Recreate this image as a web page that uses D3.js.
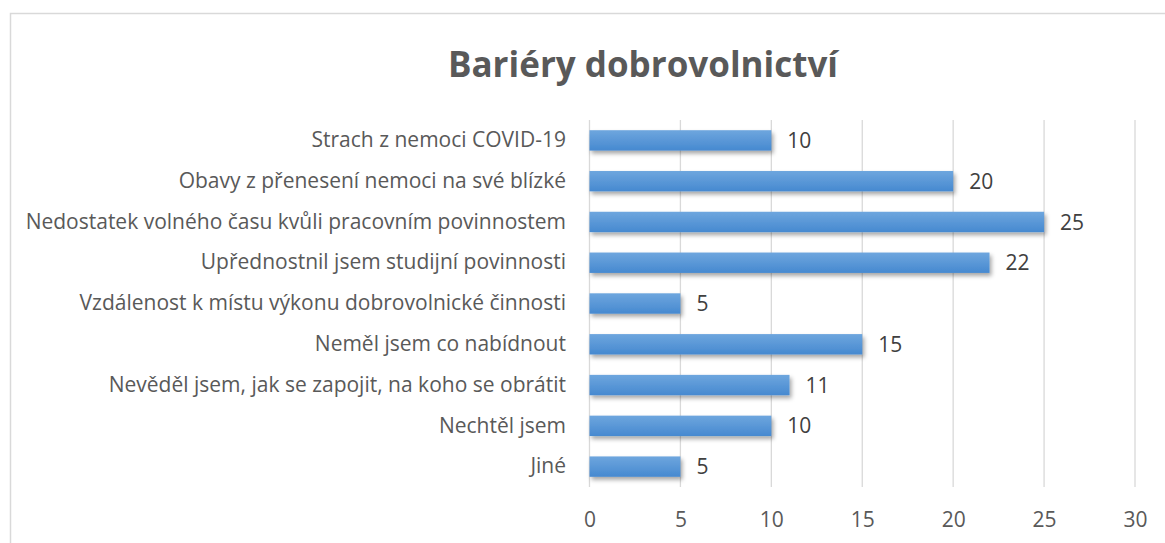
<!DOCTYPE html>
<html lang="cs">
<head>
<meta charset="UTF-8">
<title>Bariéry dobrovolnictví</title>
<script src="https://d3js.org/d3.v7.min.js"></script>
<style>
  body { margin: 0; background: #fff; }
  svg { font-family: "Open Sans", sans-serif; }
</style>
</head>
<body>
<svg></svg>
<script>
const categories = [
  "Strach z nemoci COVID-19",
  "Obavy z přenesení nemoci na své blízké",
  "Nedostatek volného času kvůli pracovním povinnostem",
  "Upřednostnil jsem studijní povinnosti",
  "Vzdálenost k místu výkonu dobrovolnické činnosti",
  "Neměl jsem co nabídnout",
  "Nevěděl jsem, jak se zapojit, na koho se obrátit",
  "Nechtěl jsem",
  "Jiné"
];
const values = [10, 20, 25, 22, 5, 15, 11, 10, 5];
const xTicks = [0, 5, 10, 15, 20, 25, 30];
const title = "Bariéry dobrovolnictví";

const width = 1165, height = 543;
const font = "'Open Sans', sans-serif";
const svg = d3.select("svg").attr("width", width).attr("height", height);

const defs = svg.append("defs");
const grad = defs.append("linearGradient").attr("id", "barGrad")
  .attr("x1", 0).attr("y1", 0).attr("x2", 0).attr("y2", 1);
grad.append("stop").attr("offset", "0%").attr("stop-color", "#6ea6de");
grad.append("stop").attr("offset", "100%").attr("stop-color", "#4689d0");
const shadow = defs.append("filter").attr("id", "shadow")
  .attr("x", "-5%").attr("y", "-30%").attr("width", "115%").attr("height", "190%");
shadow.append("feDropShadow").attr("dx", 2).attr("dy", 3).attr("stdDeviation", 2.2)
  .attr("flood-color", "#000").attr("flood-opacity", 0.35);

// chart border
svg.append("rect")
  .attr("x", 10.5).attr("y", 13.5).attr("width", 1165).attr("height", 560)
  .attr("fill", "none").attr("stroke", "#d9d9d9").attr("stroke-width", 1.5);

svg.append("text")
  .attr("x", 643).attr("y", 77)
  .attr("text-anchor", "middle")
  .attr("font-size", 35).attr("font-weight", "bold")
  .attr("fill", "#595959")
  .text(title);

const x = d3.scaleLinear().domain([0, 30]).range([589.5, 1135]);
const y = d3.scaleBand().domain(categories).range([120, 487]).paddingInner(0.5).paddingOuter(0.25);

// gridlines
svg.append("g")
  .selectAll("line")
  .data(xTicks)
  .join("line")
  .attr("x1", d => x(d)).attr("x2", d => x(d))
  .attr("y1", 120).attr("y2", 487)
  .attr("stroke", "#d9d9d9").attr("stroke-width", 1.3);

// x tick labels
const xAxis = svg.append("g")
  .attr("transform", "translate(0,512)")
  .call(d3.axisBottom(x).tickValues(xTicks).tickSize(0).tickPadding(0));
xAxis.select(".domain").remove();
xAxis.selectAll("text")
  .attr("font-family", font)
  .attr("font-size", 21).attr("fill", "#595959");

// category labels
const yAxis = svg.append("g")
  .attr("transform", "translate(566,0)")
  .call(d3.axisLeft(y).tickSize(0).tickPadding(0));
yAxis.select(".domain").remove();
yAxis.selectAll("text")
  .attr("font-family", font)
  .attr("font-size", 21).attr("fill", "#595959");

// bars
svg.append("g")
  .selectAll("rect")
  .data(values)
  .join("rect")
  .attr("x", x(0))
  .attr("y", (d, i) => y(categories[i]))
  .attr("width", d => x(d) - x(0))
  .attr("height", y.bandwidth())
  .attr("fill", "url(#barGrad)")
  .attr("filter", "url(#shadow)");

// value labels
svg.append("g")
  .selectAll("text")
  .data(values)
  .join("text")
  .attr("x", d => x(d) + 16)
  .attr("y", (d, i) => y(categories[i]) + y.bandwidth() / 2)
  .attr("dy", "0.36em")
  .attr("font-size", 21).attr("fill", "#404040")
  .text(d => d);
</script>
</body>
</html>
